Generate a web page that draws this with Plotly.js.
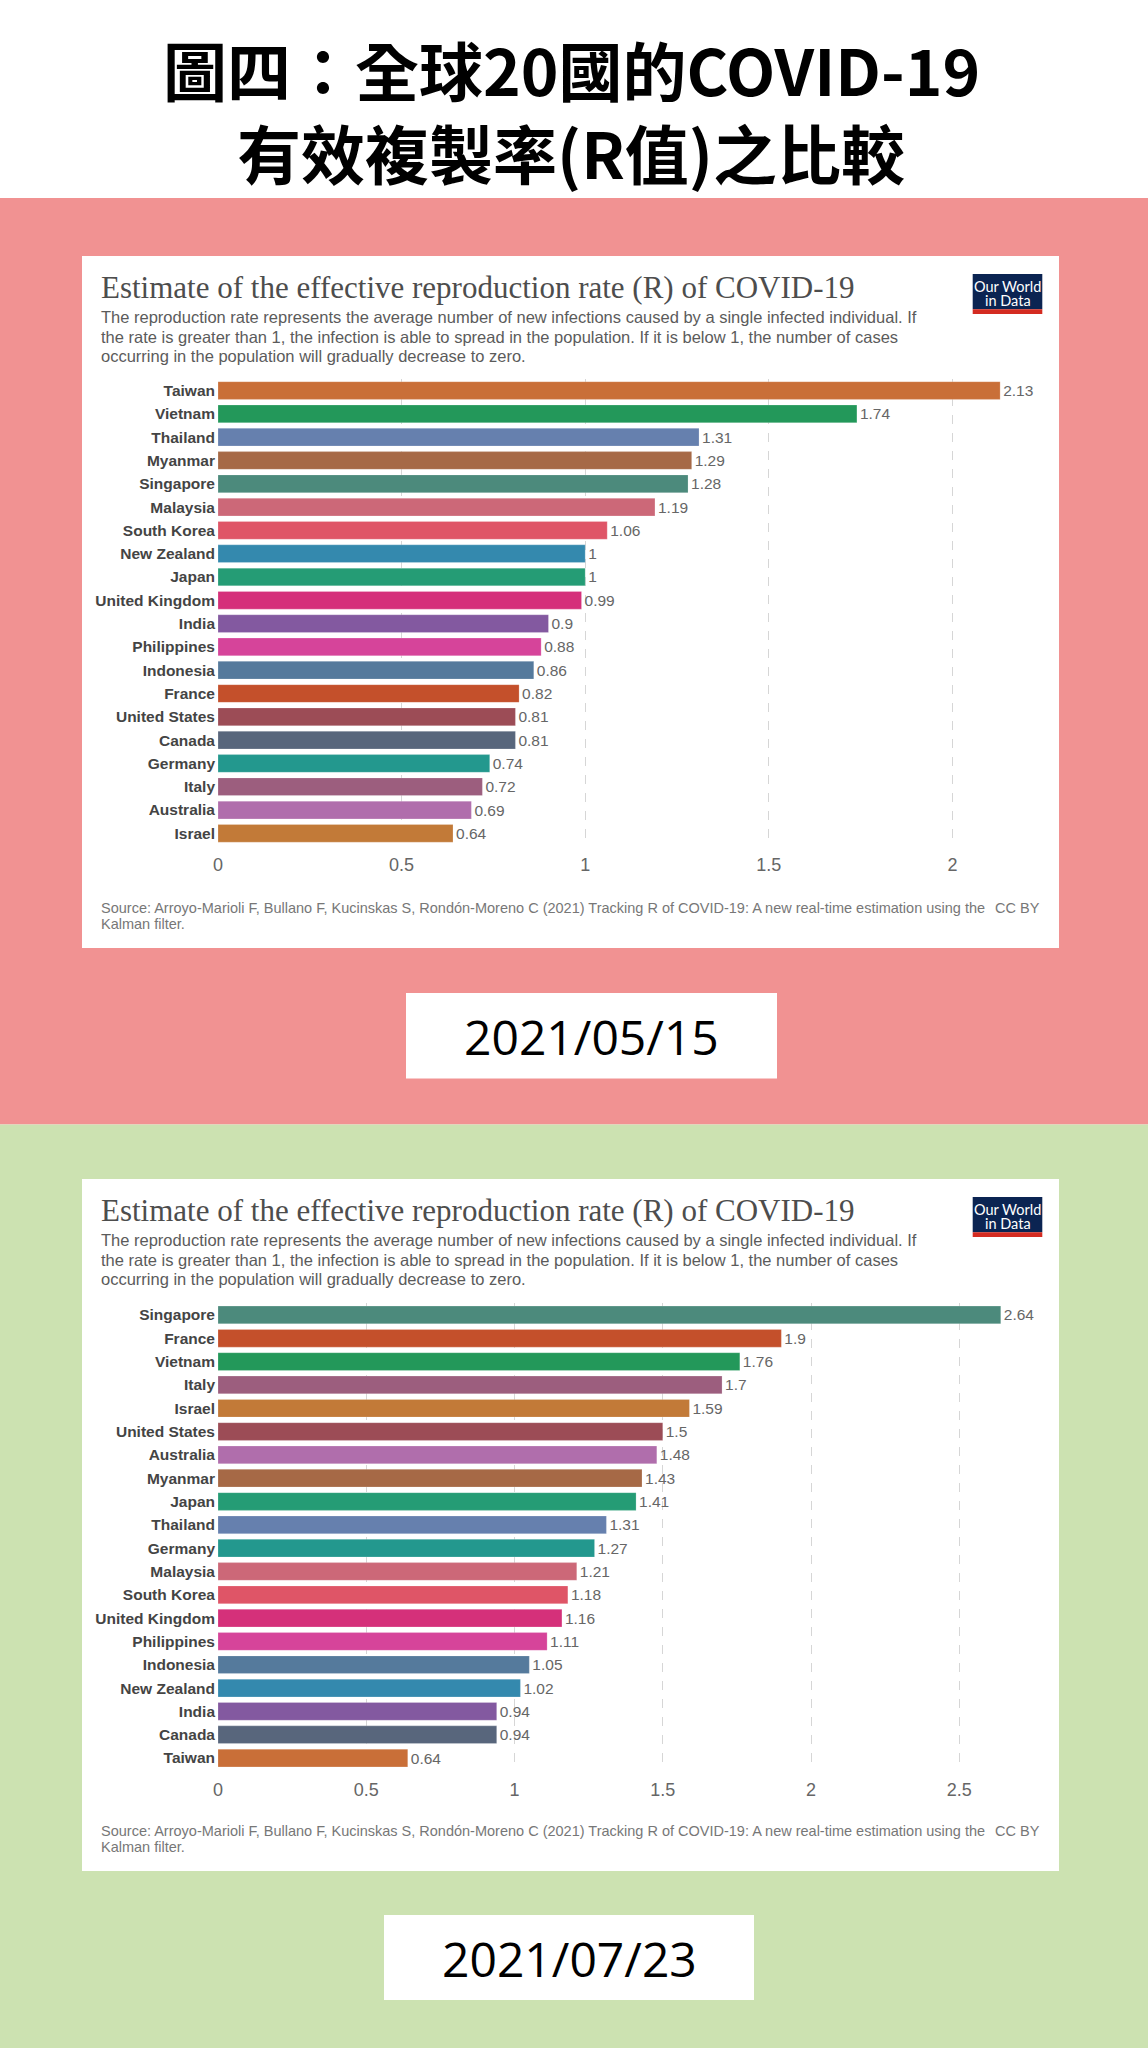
<!DOCTYPE html>
<html><head><meta charset="utf-8">
<script src="https://cdn.plot.ly/plotly-3.0.1.min.js"></script>
<style>html,body{margin:0;padding:0;background:#fff}#chart{width:1148px;height:2048px}</style>
</head><body><div id="chart"></div>
<script>
// ---- data ----
const countriesMay = ["Taiwan","Vietnam","Thailand","Myanmar","Singapore","Malaysia","South Korea","New Zealand","Japan","United Kingdom","India","Philippines","Indonesia","France","United States","Canada","Germany","Italy","Australia","Israel"];
const valuesMay = [2.13,1.74,1.31,1.29,1.28,1.19,1.06,1,1,0.99,0.9,0.88,0.86,0.82,0.81,0.81,0.74,0.72,0.69,0.64];
const countriesJul = ["Singapore","France","Vietnam","Italy","Israel","United States","Australia","Myanmar","Japan","Thailand","Germany","Malaysia","South Korea","United Kingdom","Philippines","Indonesia","New Zealand","India","Canada","Taiwan"];
const valuesJul = [2.64,1.9,1.76,1.7,1.59,1.5,1.48,1.43,1.41,1.31,1.27,1.21,1.18,1.16,1.11,1.05,1.02,0.94,0.94,0.64];
const xTicksMay = [0,0.5,1,1.5,2];
const xTickLabelsMay = ["0","0.5","1","1.5","2"];
const xTicksJul = [0,0.5,1,1.5,2,2.5];
const xTickLabelsJul = ["0","0.5","1","1.5","2","2.5"];
const dateMay = "2021/05/15";
const dateJul = "2021/07/23";
const heading1 = "圖四：全球20國的COVID-19";
const heading2 = "有效複製率(R值)之比較";
const chartTitle = "Estimate of the effective reproduction rate (R) of COVID-19";
const subtitleLines = [
  "The reproduction rate represents the average number of new infections caused by a single infected individual. If",
  "the rate is greater than 1, the infection is able to spread in the population. If it is below 1, the number of cases",
  "occurring in the population will gradually decrease to zero."
];
const sourceLines = [
  "Source: Arroyo-Marioli F, Bullano F, Kucinskas S, Rondón-Moreno C (2021) Tracking R of COVID-19: A new real-time estimation using the",
  "Kalman filter."
];

// ---- styles ----
const countryColors = {
  "Taiwan":"#C96F38","Vietnam":"#23985A","Thailand":"#6680AE","Myanmar":"#A66946",
  "Singapore":"#4C8A7C","Malaysia":"#CC6878","South Korea":"#DF5567","New Zealand":"#3489AE",
  "Japan":"#259C75","United Kingdom":"#D5307A","India":"#8359A0","Philippines":"#D6449A",
  "Indonesia":"#557A9C","France":"#C4502B","United States":"#9C4C56","Canada":"#58667C",
  "Germany":"#23988E","Italy":"#9C5E7E","Australia":"#B06EAC","Israel":"#C27A38"
};
const W = 1148, H = 2048;
const X = p => p / W, Y = p => 1 - p / H;
const SANS = "Liberation Sans, Arial, sans-serif";

function barTrace(cats, vals, xa, ya) {
  return {
    type: "bar", orientation: "h", x: vals, y: cats, xaxis: xa, yaxis: ya,
    marker: { color: cats.map(c => countryColors[c]), line: { width: 0.6, color: "rgba(255,255,255,0.35)" } },
    text: vals.map(v => String(v)), textposition: "outside", cliponaxis: false,
    constraintext: "none",
    outsidetextfont: { family: SANS, size: 15.5, color: "#666" },
    hoverinfo: "skip", showlegend: false
  };
}

function xAxis(domPx, range, ticks, labels, anchor) {
  return {
    domain: [X(domPx[0]), X(domPx[1])], range: range, anchor: anchor,
    tickmode: "array", tickvals: ticks, ticktext: labels,
    showgrid: true, gridcolor: "#d6d6d6", griddash: "dash", gridwidth: 1,
    zeroline: false, showline: false, ticks: "", ticklabelstandoff: 7,
    tickfont: { family: SANS, size: 18, color: "#666" }, fixedrange: true
  };
}
function yAxis(domPx, cats, anchor) {
  return {
    domain: [Y(domPx[1]), Y(domPx[0])], anchor: anchor, type: "category",
    categoryorder: "array", categoryarray: cats, autorange: "reversed",
    showgrid: false, zeroline: false, showline: false, ticks: "",
    ticklabelstandoff: 2,
    tickfont: { family: SANS, size: 15.5, color: "#444", weight: "bold" }, fixedrange: true
  };
}

const shapes = [];
function rect(x0, y0, x1, y1, color) {
  shapes.push({ type: "rect", xref: "paper", yref: "paper", x0: X(x0), x1: X(x1), y0: Y(y1), y1: Y(y0),
    fillcolor: color, line: { width: 0 }, layer: "below" });
}
rect(0, 198, 1148, 1124.5, "#F19292");
rect(0, 1124.5, 1148, 2048, "#CCE2B1");

const annotations = [];
function txt(text, x, y, opts) {
  annotations.push(Object.assign({ text: text, xref: "paper", yref: "paper", x: X(x), y: Y(y),
    xanchor: "left", yanchor: "middle", showarrow: false }, opts));
}

txt("<b>" + heading1 + "</b>", 571, 68, { xanchor: "center",
  font: { family: "Noto Sans CJK TC, sans-serif", size: 64, color: "#000" } });
txt("<b>" + heading2 + "</b>", 571, 151, { xanchor: "center",
  font: { family: "Noto Sans CJK TC, sans-serif", size: 64, color: "#000" } });

function card(off, dateText, dateBox) {
  rect(82, 256 + off, 1059, 948 + off, "#FFFFFF");
  // logo
  rect(972.7, 274 + off, 1042.3, 309.3 + off, "#0B2452");
  rect(972.7, 309.3 + off, 1042.3, 314 + off, "#D42B21");
  txt("Our World", 1007.5, 286 + off, { xanchor: "center",
    font: { family: "Lato, sans-serif", size: 14.5, color: "#fff" } });
  txt("in Data", 1007.5, 300.5 + off, { xanchor: "center",
    font: { family: "Lato, sans-serif", size: 14.5, color: "#fff" } });
  txt(chartTitle, 99, 287 + off, { font: { family: "Liberation Serif, Times New Roman, serif", size: 31, color: "#4d4d4d" } });
  subtitleLines.forEach((l, i) => txt(l, 99, 317 + i * 19.6 + off,
    { font: { family: SANS, size: 16.5, color: "#5b5b5b" } }));
  txt(sourceLines[0], 99, 908 + off, { font: { family: SANS, size: 14.5, color: "#777" } });
  txt(sourceLines[1], 99, 923.5 + off, { font: { family: SANS, size: 14.5, color: "#777" } });
  txt("CC BY", 1042, 908 + off, { xanchor: "right", font: { family: SANS, size: 14.5, color: "#777" } });
  // date box
  rect(dateBox[0], dateBox[1], dateBox[2], dateBox[3], "#FFFFFF");
  txt(dateText, (dateBox[0] + dateBox[2]) / 2, (dateBox[1] + dateBox[3]) / 2 + 1, { xanchor: "center",
    font: { family: "Open Sans, Noto Sans, sans-serif", size: 48, color: "#000" } });
}
card(0, dateMay, [406, 993, 777, 1078.5]);
card(923, dateJul, [384, 1915, 754, 2000]);

const unitMay = 367.2, unitJul = 296.5;
const data = [
  barTrace(countriesMay, valuesMay, "x", "y"),
  barTrace(countriesJul, valuesJul, "x2", "y2")
];
const layout = {
  width: W, height: H, margin: { l: 0, r: 0, t: 0, b: 0 },
  paper_bgcolor: "#ffffff", plot_bgcolor: "rgba(0,0,0,0)",
  bargap: 0.24, showlegend: false,
  xaxis: xAxis([218, 218 + 2.2 * unitMay], [0, 2.2], xTicksMay, xTickLabelsMay, "y"),
  yaxis: yAxis([378.9, 845], countriesMay, "x"),
  xaxis2: xAxis([218, 218 + 2.75 * unitJul], [0, 2.75], xTicksJul, xTickLabelsJul, "y2"),
  yaxis2: yAxis([1303.3, 1769.7], countriesJul, "x2"),
  shapes: shapes, annotations: annotations
};
Plotly.newPlot("chart", data, layout, { staticPlot: true, displayModeBar: false });
</script></body></html>
